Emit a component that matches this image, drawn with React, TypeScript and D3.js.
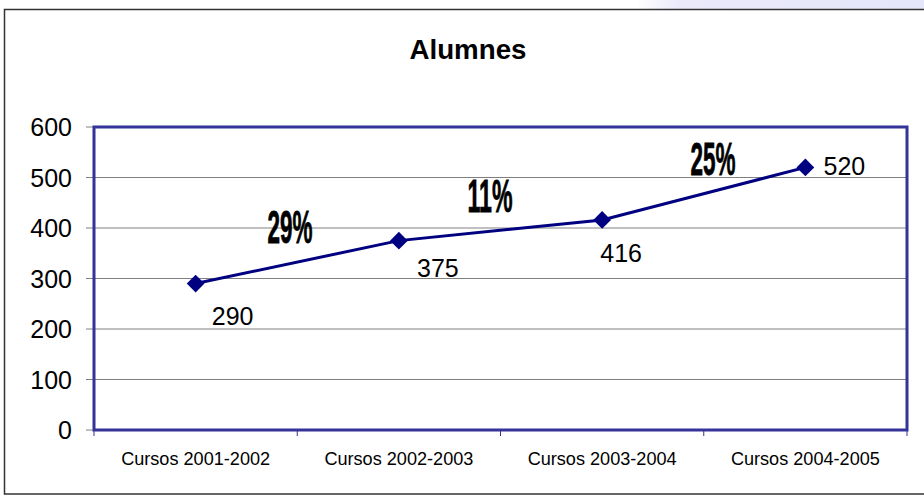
import React from "react";
import * as d3 from "d3";

const categories = ["Cursos 2001-2002", "Cursos 2002-2003", "Cursos 2003-2004", "Cursos 2004-2005"];
const values = [290, 375, 416, 520];
const growthLabels = ["29%", "11%", "25%"];
const yTicks = [0, 100, 200, 300, 400, 500, 600];

const W = 924, H = 496;
const plot = { left: 94, right: 907, top: 127, bottom: 430 };

export default function App() {
  const x = d3.scaleBand<string>().domain(categories).range([plot.left, plot.right]);
  const y = d3.scaleLinear().domain([0, 600]).range([plot.bottom, plot.top]);
  const cx = (i: number) => (x(categories[i]) as number) + x.bandwidth() / 2;
  const line = d3.line<number>().x((_, i) => cx(i)).y((d) => y(d));
  const diamond = d3.symbol().type(d3.symbolDiamond2).size(200)();

  // label offsets (styling only)
  const labelPos = [
    { dx: 37, dy: 41 },
    { dx: 39, dy: 36 },
    { dx: 19, dy: 42 },
    { dx: 39, dy: 8 },
  ];
  const growthPos = [
    { x: 290, y: 243 },
    { x: 490, y: 212 },
    { x: 713, y: 175 },
  ];

  return (
    <svg width={W} height={H} style={{ position: "absolute", left: 0, top: 0, fontFamily: "'Liberation Sans', Arial, sans-serif" }}>
      <defs>
        <linearGradient id="lav" x1="0" x2="1" y1="0" y2="0">
          <stop offset="0" stopColor="#ffffff" />
          <stop offset="0.15" stopColor="#eaeafb" />
          <stop offset="1" stopColor="#e6e6fa" />
        </linearGradient>
      </defs>
      <rect x={0} y={0} width={W} height={H} fill="#ffffff" />
      <polygon points={`640,0 ${W},0 ${W},9 636,9`} fill="url(#lav)" />
      {/* outer frame */}
      <rect x={4.5} y={9.5} width={W + 10} height={484.5} fill="none" stroke="#333" strokeWidth={1.5} />
      <text x={468} y={59} textAnchor="middle" fontSize={27} fontWeight="bold" fill="#000" textLength={117} lengthAdjust="spacingAndGlyphs">Alumnes</text>

      {/* gridlines */}
      {yTicks.filter((t) => t > 0 && t < 600).map((t) => (
        <line key={t} x1={plot.left} x2={plot.right} y1={y(t)} y2={y(t)} stroke="#808080" strokeWidth={1} />
      ))}
      {/* y ticks */}
      {yTicks.map((t) => (
        <g key={"yt" + t}>
          <line x1={plot.left - 8} x2={plot.left} y1={y(t)} y2={y(t)} stroke="#808080" strokeWidth={1} />
          <text x={72} y={y(t) + 9} textAnchor="end" fontSize={25} fill="#000">{t}</text>
        </g>
      ))}
      {/* x ticks */}
      {[...categories.map((c) => x(c) as number), plot.right].map((xv, i) => (
        <line key={"xt" + i} x1={xv} x2={xv} y1={plot.bottom} y2={plot.bottom + 6} stroke="#333399" strokeWidth={1} />
      ))}
      {categories.map((c, i) => (
        <text key={c} x={cx(i)} y={465} textAnchor="middle" fontSize={18} fill="#000" textLength={149} lengthAdjust="spacingAndGlyphs">{c}</text>
      ))}

      {/* plot border */}
      <rect x={plot.left} y={plot.top} width={plot.right - plot.left} height={plot.bottom - plot.top} fill="none" stroke="#333399" strokeWidth={3} />

      <path d={line(values) || ""} fill="none" stroke="#000080" strokeWidth={3} />
      {values.map((v, i) => (
        <path key={"m" + i} d={diamond || ""} transform={`translate(${cx(i)},${y(v)})`} fill="#000080" />
      ))}
      {values.map((v, i) => (
        <text key={"l" + i} x={cx(i) + labelPos[i].dx} y={y(v) + labelPos[i].dy} textAnchor="middle" fontSize={25} fill="#000">{v}</text>
      ))}
      {growthLabels.map((g, i) => (
        <text key={g} x={growthPos[i].x} y={growthPos[i].y} textAnchor="middle" fontSize={47} fontWeight="bold" fill="#000"
          textLength={45} lengthAdjust="spacingAndGlyphs" stroke="#000" strokeWidth={0.8}>{g}</text>
      ))}
    </svg>
  );
}
